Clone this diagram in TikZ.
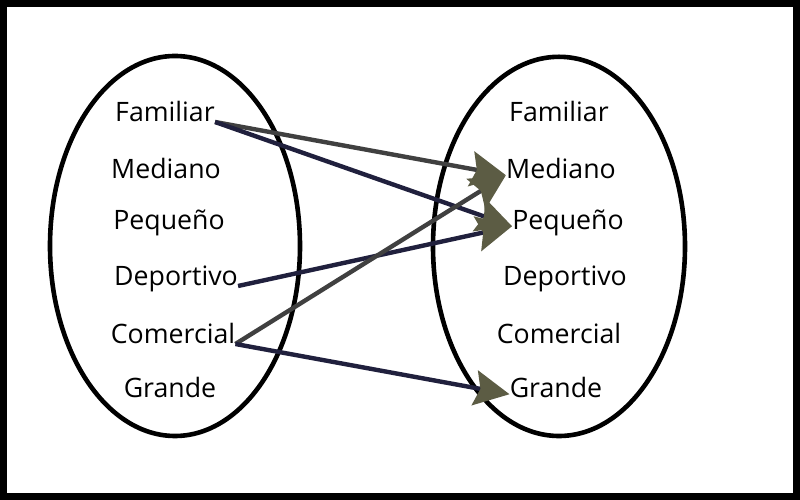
\documentclass[tikz,border=0pt]{standalone}
\usepackage{fontspec}
\setmainfont{Open Sans}
\usetikzlibrary{arrows.meta}
\definecolor{lineGrey}{HTML}{404040}
\definecolor{lineNavy}{HTML}{20203D}
\definecolor{tipOlive}{HTML}{5C5C44}
\begin{document}
\begin{tikzpicture}[
  word/.style={anchor=base,inner sep=0pt,font=\fontsize{19}{22}\selectfont},
  oval/.style={line width=0.115cm},
  link/.style={line width=0.11cm,-{Stealth[length=25pt,width=25pt,inset=4pt,color=tipOlive]}}
]
\useasboundingbox (0,0) rectangle (20,12.5);
\draw[line width=0.175cm] (0.0875,0.0875) rectangle (19.9125,12.4125);
% the two sets
\draw[oval] (4.375,6.35) ellipse (3.125 and 4.75);
\draw[oval] (13.975,6.34) ellipse (3.15 and 4.74);
% left set
\node[word] (lFam) at (4.125,9.45) {Familiar};
\node[word] (lMed) at (4.15,8.025) {Mediano};
\node[word] (lPeq) at (4.225,6.75) {Pequeño};
\node[word] (lDep) at (4.4,5.35) {Deportivo};
\node[word] (lCom) at (4.325,3.9) {Comercial};
\node[word] (lGra) at (4.25,2.55) {Grande};
% right set
\node[word] (rFam) at (13.975,9.45) {Familiar};
\node[word] (rMed) at (14.025,8.025) {Mediano};
\node[word] (rPeq) at (14.2,6.75) {Pequeño};
\node[word] (rDep) at (14.125,5.35) {Deportivo};
\node[word] (rCom) at (13.975,3.9) {Comercial};
\node[word] (rGra) at (13.9,2.55) {Grande};
% the pairs
\draw[link,lineGrey] (lFam.base east) -- (rMed.mid west);
\draw[link,lineNavy] (lFam.base east) -- (rPeq.mid west);
\draw[link,lineNavy] (lDep.base east) -- (rPeq.mid west);
\draw[link,lineGrey] (lCom.base east) -- (rMed.mid west);
\draw[link,lineNavy] (lCom.base east) -- (rGra.mid west);
\end{tikzpicture}
\end{document}
